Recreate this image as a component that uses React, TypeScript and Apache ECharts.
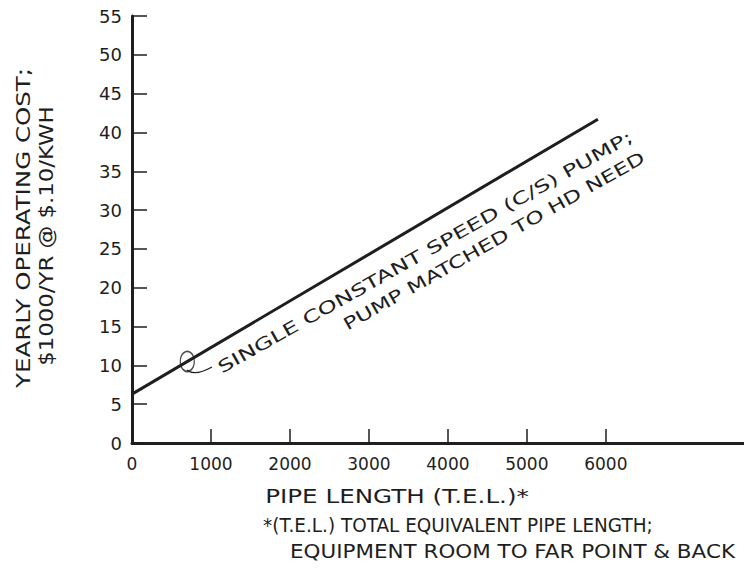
import React, { useEffect, useRef } from "react";
import * as echarts from "echarts";

const lineX = [0, 5900];
const lineY = [6.3, 41.7];
const markerX = 700;
const markerY = 10.5;
const xTickValues = [0, 1000, 2000, 3000, 4000, 5000, 6000];
const yTicks = { min: 0, max: 55, interval: 5 };
const xAxisMax = 7750;
const yAxisTitle1 = "YEARLY OPERATING COST;";
const yAxisTitle2 = "$1000/YR @ $.10/KWH";
const xAxisTitle = "PIPE LENGTH (T.E.L.)*";
const footnote1 = "*(T.E.L.) TOTAL EQUIVALENT PIPE LENGTH;";
const footnote2 = "EQUIPMENT ROOM TO FAR POINT & BACK";
const label1 = "SINGLE CONSTANT SPEED (C/S) PUMP;";
const label2 = "PUMP MATCHED TO HD NEED";

const INK = "#1e1e1e";
const FONT = "DejaVu Sans";

export default function App() {
  const ref = useRef<HTMLDivElement>(null);
  useEffect(() => {
    if (!ref.current) return;
    const chart = echarts.init(ref.current, undefined, { renderer: "svg" });
    const ang = (29.5 * Math.PI) / 180;
    const txt = (text: string, size: number, align: string) => ({
      text,
      fill: INK,
      font: `${size}px "${FONT}"`,
      textAlign: align,
      textVerticalAlign: "middle",
    });
    chart.setOption({
      animation: false,
      backgroundColor: "#ffffff",
      grid: { left: 132, right: 0, top: 16, bottom: 128, containLabel: false },
      xAxis: {
        type: "value",
        min: 0,
        max: xAxisMax,
        interval: 1000,
        splitLine: { show: false },
        axisLine: { show: true, lineStyle: { color: INK, width: 3 } },
        axisTick: {
          show: true,
          inside: true,
          length: 14,
          customValues: xTickValues.slice(1),
          lineStyle: { color: INK, width: 1.5 },
        },
        axisLabel: {
          customValues: xTickValues,
          formatter: (v: number) => String(v),
          color: INK,
          fontFamily: FONT,
          fontSize: 17,
          margin: 12,
        },
      },
      yAxis: {
        type: "value",
        min: yTicks.min,
        max: yTicks.max,
        interval: yTicks.interval,
        splitLine: { show: false },
        axisLine: { show: true, lineStyle: { color: INK, width: 3 } },
        axisTick: { show: true, inside: true, length: 15, lineStyle: { color: INK, width: 1.5 } },
        axisLabel: { color: INK, fontFamily: FONT, fontSize: 18, margin: 10 },
      },
      graphic: [
        { type: "text", x: 24, y: 228, rotation: Math.PI / 2, scaleX: 1.29, style: txt(yAxisTitle1, 19, "center") },
        { type: "text", x: 47, y: 236, rotation: Math.PI / 2, scaleX: 1.2, style: txt(yAxisTitle2, 19, "center") },
        { type: "text", x: 397, y: 496, scaleX: 1.23, style: txt(xAxisTitle, 20, "center") },
        { type: "text", x: 263, y: 525, scaleX: 0.97, style: txt(footnote1, 19, "left") },
        { type: "text", x: 290, y: 551, scaleX: 1.13, style: txt(footnote2, 19, "left") },
        { type: "text", x: 425, y: 252, rotation: ang, scaleX: 1.45, style: txt(label1, 17, "center") },
        { type: "text", x: 494, y: 241, rotation: ang, scaleX: 1.38, style: txt(label2, 17, "center") },
        {
          type: "bezierCurve",
          shape: { x1: 187, y1: 370, cpx1: 193, cpy1: 375, cpx2: 203, cpy2: 372, x2: 212, y2: 367 },
          style: { stroke: INK, lineWidth: 1.3, fill: "none" },
        },
      ],
      series: [
        {
          type: "line",
          data: lineX.map((x, i) => [x, lineY[i]]),
          showSymbol: false,
          lineStyle: { color: INK, width: 3 },
          silent: true,
        },
        {
          type: "scatter",
          data: [[markerX, markerY]],
          symbol: "circle",
          symbolSize: [14, 20],
          itemStyle: { color: "rgba(0,0,0,0)", borderColor: INK, borderWidth: 1.5 },
          silent: true,
        },
      ],
    });
    return () => chart.dispose();
  }, []);
  return <div ref={ref} style={{ width: 744, height: 571, position: "absolute", left: 0, top: 0 }} />;
}
